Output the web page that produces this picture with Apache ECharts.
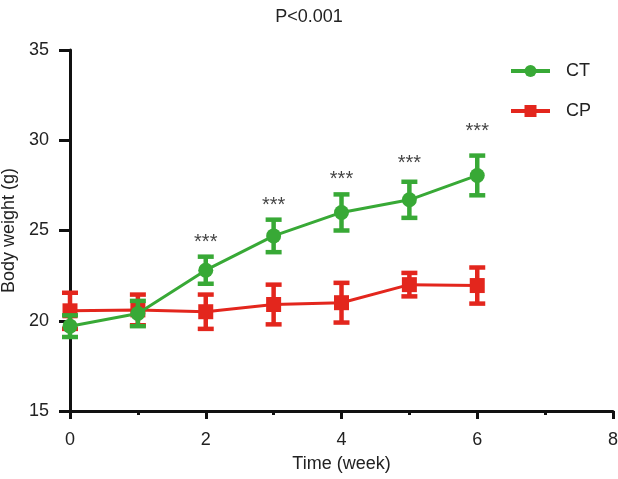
<!DOCTYPE html>
<html>
<head>
<meta charset="utf-8">
<script src="https://cdn.jsdelivr.net/npm/echarts@6/dist/echarts.min.js"></script>
<style>
html,body{margin:0;padding:0;background:#fff;}
#chart{width:618px;height:479px;}
</style>
</head>
<body>
<div id="chart"></div>
<script>
var weeks = [0, 1, 2, 3, 4, 5, 6];
var ctMean = [19.7, 20.4, 22.8, 24.7, 26.0, 26.7, 28.05];
var ctErr = [0.6, 0.7, 0.75, 0.9, 1.0, 1.0, 1.1];
var cpMean = [20.55, 20.6, 20.5, 20.9, 21.0, 22.0, 21.95];
var cpErr = [1.0, 0.85, 0.95, 1.1, 1.1, 0.65, 1.0];
var starWeeks = [2, 3, 4, 5, 6];
var starY = [24.35, 26.4, 27.8, 28.7, 30.5];
var xTicks = [0, 2, 4, 6, 8];
var yTicks = [15, 20, 25, 30, 35];

var GREEN = '#38a936';
var RED = '#e3261d';
var FONT = 'Liberation Sans, Arial, Helvetica, sans-serif';

function pairs(xs, ys) { return xs.map(function (x, i) { return [x, ys[i]]; }); }
function errData(xs, m, e) { return xs.map(function (x, i) { return [x, m[i] - e[i], m[i] + e[i]]; }); }

function errRender(color) {
  return function (params, api) {
    var x = api.value(0), lo = api.value(1), hi = api.value(2);
    var pLo = api.coord([x, lo]), pHi = api.coord([x, hi]);
    var hw = 8;
    var st = { stroke: color, lineWidth: 4.5, lineCap: 'butt' };
    return {
      type: 'group',
      children: [
        { type: 'line', shape: { x1: pLo[0], y1: pLo[1], x2: pHi[0], y2: pHi[1] }, style: st },
        { type: 'line', shape: { x1: pHi[0] - hw, y1: pHi[1], x2: pHi[0] + hw, y2: pHi[1] }, style: st },
        { type: 'line', shape: { x1: pLo[0] - hw, y1: pLo[1], x2: pLo[0] + hw, y2: pLo[1] }, style: st }
      ]
    };
  };
}

var chart = echarts.init(document.getElementById('chart'), null, { renderer: 'canvas' });
chart.setOption({
  animation: false,
  backgroundColor: '#fff',
  title: {
    text: 'P<0.001',
    left: 'center',
    top: 3,
    textStyle: { fontFamily: FONT, fontSize: 18, fontWeight: 'normal', color: '#222' }
  },
  legend: {
    orient: 'vertical',
    left: 504,
    top: 57,
    itemWidth: 39,
    itemHeight: 15,
    itemGap: 22,
    data: ['CT', 'CP'],
    lineStyle: { width: 4 },
    textStyle: { fontFamily: FONT, fontSize: 18, color: '#222', padding: [0, 0, 0, 11] }
  },
  grid: { left: 70, right: 5, top: 50, bottom: 68, outerBoundsMode: 'none', containLabel: false },
  xAxis: {
    type: 'value',
    min: 0, max: 8, interval: 2,
    name: 'Time (week)',
    nameLocation: 'middle',
    nameGap: 44,
    nameTextStyle: { fontFamily: FONT, fontSize: 18, color: '#222' },
    axisLine: { show: true, onZero: false, lineStyle: { color: '#111', width: 3 } },
    axisTick: { show: true, inside: false, length: 8, lineStyle: { color: '#111', width: 3 } },
    minorTick: { show: true, splitNumber: 2, length: 4, lineStyle: { color: '#111', width: 3 } },
    axisLabel: { fontFamily: FONT, fontSize: 18, color: '#222', margin: 20 },
    splitLine: { show: false }
  },
  yAxis: {
    type: 'value',
    min: 15, max: 35, interval: 5,
    name: 'Body weight (g)',
    nameLocation: 'middle',
    nameGap: 50,
    nameTextStyle: { fontFamily: FONT, fontSize: 18, color: '#222' },
    axisLine: { show: true, onZero: false, lineStyle: { color: '#111', width: 3 } },
    axisTick: { show: true, inside: false, length: 11, lineStyle: { color: '#111', width: 3 } },
    axisLabel: { fontFamily: FONT, fontSize: 18, color: '#222', margin: 21 },
    splitLine: { show: false }
  },
  series: [
    {
      type: 'custom', name: 'CPerr', z: 2,
      renderItem: errRender(RED),
      data: errData(weeks, cpMean, cpErr),
      encode: { x: 0, y: [1, 2] }
    },
    {
      type: 'line', name: 'CP', z: 3,
      data: pairs(weeks, cpMean),
      symbol: 'rect', symbolSize: 15,
      lineStyle: { color: RED, width: 3 },
      itemStyle: { color: RED },
      showSymbol: true
    },
    {
      type: 'custom', name: 'CTerr', z: 4,
      renderItem: errRender(GREEN),
      data: errData(weeks, ctMean, ctErr),
      encode: { x: 0, y: [1, 2] }
    },
    {
      type: 'line', name: 'CT', z: 5,
      data: pairs(weeks, ctMean),
      symbol: 'circle', symbolSize: 15,
      lineStyle: { color: GREEN, width: 3 },
      itemStyle: { color: GREEN },
      showSymbol: true
    },
    {
      type: 'scatter', name: 'stars', z: 6,
      data: pairs(starWeeks, starY),
      symbolSize: 0,
      label: {
        show: true, position: 'inside', formatter: '***',
        fontFamily: FONT, fontSize: 20, color: '#111'
      }
    }
  ]
});
</script>
</body>
</html>
